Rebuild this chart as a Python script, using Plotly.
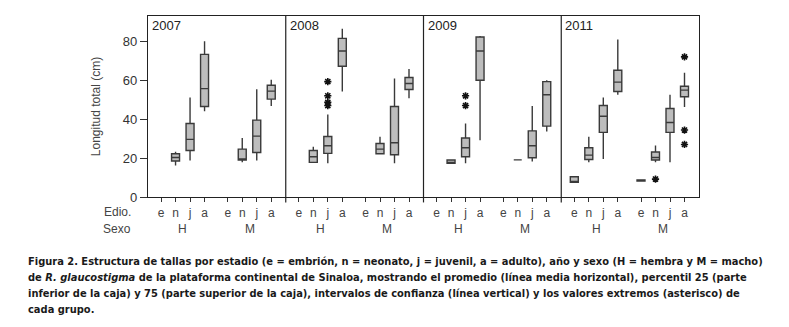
import plotly.graph_objects as go

# ---------------- data ----------------
years = ["2007", "2008", "2009", "2011"]
stages = ["e", "n", "j", "a"]
sexes = ["H", "M"]

# one entry per box: year, sex, stage, lower whisker, q1, median, q3, upper whisker
box_year =   ["2007","2007","2007","2007","2007","2007",
              "2008","2008","2008","2008","2008","2008",
              "2009","2009","2009","2009","2009","2009",
              "2011","2011","2011","2011","2011","2011","2011","2011"]
box_sex =    ["H","H","H","M","M","M",
              "H","H","H","M","M","M",
              "H","H","H","M","M","M",
              "H","H","H","H","M","M","M","M"]
box_stage =  ["n","j","a","n","j","a",
              "n","j","a","n","j","a",
              "n","j","a","n","j","a",
              "e","n","j","a","e","n","j","a"]
box_low =    [16.2, 18.8, 44.1, 17.8, 18.8, 46.8,
              17.5, 17.3, 54.2, 22.0, 17.3, 50.8,
              17.3, 17.3, 29.2, 19.1, 18.3, 33.7,
              7.5, 17.8, 19.5, 52.5, 8.2, 17.8, 17.8, 46.3]
box_q1 =     [18.5, 23.9, 46.5, 19.0, 22.9, 50.3,
              17.8, 22.4, 67.2, 22.2, 21.7, 55.2,
              17.3, 20.7, 60.0, 19.1, 20.2, 36.4,
              7.5, 19.3, 33.2, 54.2, 8.2, 19.0, 33.2, 51.5]
box_median = [20.3, 29.6, 55.7, 19.5, 31.3, 54.4,
              20.7, 26.3, 75.0, 24.6, 27.9, 58.3,
              17.3, 25.3, 75.0, 19.1, 26.3, 52.5,
              7.5, 21.5, 41.5, 59.0, 8.2, 20.3, 38.3, 54.9]
box_q3 =     [22.2, 37.8, 73.3, 24.6, 39.5, 57.4,
              23.9, 31.1, 81.5, 27.5, 46.5, 61.4,
              19.0, 30.3, 82.2, 19.1, 34.0, 59.3,
              10.4, 25.3, 47.0, 65.1, 8.8, 23.1, 45.5, 56.9]
box_high =   [23.2, 51.1, 80.0, 30.3, 55.4, 60.3,
              25.8, 42.4, 86.5, 30.9, 60.9, 65.8,
              19.0, 37.8, 82.7, 19.1, 46.7, 60.0,
              10.4, 30.9, 51.1, 80.9, 8.8, 26.5, 52.6, 63.8]

# extreme values (asterisks)
out_year =  ["2008","2008","2008","2008","2009","2009","2011","2011","2011","2011"]
out_sex =   ["H","H","H","H","H","H","M","M","M","M"]
out_stage = ["j","j","j","j","j","j","n","a","a","a"]
out_value = [59.3, 52.0, 48.6, 47.0, 52.0, 47.0, 9.2, 72.0, 34.4, 27.0]

caption_lines = [
    "Figura 2. Estructura de tallas por estadio (e = embrión, n = neonato, j = juvenil, a = adulto), año y sexo (H = hembra y M = macho)",
    "de <i>R. glaucostigma</i> de la plataforma continental de Sinaloa, mostrando el promedio (línea media horizontal), percentil 25 (parte",
    "inferior de la caja) y 75 (parte superior de la caja), intervalos de confianza (línea vertical) y los valores extremos (asterisco) de",
    "cada grupo.",
]

# ---------------- layout helpers ----------------
PANEL = 9.5
SEX_OFF = {"H": 0.9, "M": 5.5}

def xpos(year, sex, stage):
    return years.index(year) * PANEL + SEX_OFF[sex] + stages.index(stage)

bx = [xpos(y, s, st) for y, s, st in zip(box_year, box_sex, box_stage)]
ox = [xpos(y, s, st) for y, s, st in zip(out_year, out_sex, out_stage)]

fig = go.Figure()
fig.add_trace(go.Box(
    x=bx, q1=box_q1, median=box_median, q3=box_q3,
    lowerfence=box_low, upperfence=box_high,
    width=0.55, whiskerwidth=0, boxpoints=False,
    fillcolor="#bdbdbd", line=dict(color="#3a3a3a", width=1.4),
    showlegend=False, hoverinfo="skip"))
fig.add_trace(go.Scatter(
    x=ox, y=out_value, mode="markers",
    marker=dict(symbol="asterisk-open", size=6, color="#111",
                line=dict(color="#111", width=1.6)),
    showlegend=False, hoverinfo="skip"))

tickvals, ticktext = [], []
for y in years:
    for s in sexes:
        for st in stages:
            tickvals.append(xpos(y, s, st))
            ticktext.append(st)

shapes = []
for k in range(1, len(years)):
    shapes.append(dict(type="line", xref="x", yref="paper", x0=k * PANEL, x1=k * PANEL,
                       y0=-0.03, y1=1, line=dict(color="#222", width=1.2)))

annotations = []
for k, y in enumerate(years):
    annotations.append(dict(text=y, xref="x", yref="paper", x=k * PANEL + 0.15, y=1.0,
                            xanchor="left", yanchor="top", showarrow=False,
                            font=dict(size=13, color="#222", family="Liberation Sans, Arial")))
    for s in sexes:
        annotations.append(dict(text=s, xref="x", yref="paper",
                                x=k * PANEL + SEX_OFF[s] + 1.5, y=-0.175,
                                xanchor="center", yanchor="middle", showarrow=False,
                                font=dict(size=12, color="#444", family="Liberation Sans, Arial")))
annotations.append(dict(text="Edio.", xref="paper", yref="paper", x=-0.028, y=-0.082,
                        xanchor="right", yanchor="middle", showarrow=False,
                        font=dict(size=12, color="#444", family="Liberation Sans, Arial")))
annotations.append(dict(text="Sexo", xref="paper", yref="paper", x=-0.028, y=-0.175,
                        xanchor="right", yanchor="middle", showarrow=False,
                        font=dict(size=12, color="#444", family="Liberation Sans, Arial")))
for i, line in enumerate(caption_lines):
    annotations.append(dict(text="<b>" + line + "</b>", xref="paper", yref="paper",
                            x=(26 - 148) / 551, y=(197 - (261 + 16 * i)) / 181,
                            xanchor="left", yanchor="middle", align="left", showarrow=False,
                            font=dict(size=11, color="#1a1a1a", family="DejaVu Sans Condensed")))

# page body has an 8px margin, so the figure is sized to the remaining viewport
fig.update_layout(
    width=773, height=311,
    margin=dict(l=140, r=82, t=8, b=122),
    paper_bgcolor="white", plot_bgcolor="white",
    font=dict(family="Liberation Sans, Arial", color="#333"),
    xaxis=dict(range=[0, PANEL * len(years)], tickvals=tickvals, ticktext=ticktext,
               ticks="outside", ticklen=4, tickcolor="#333", showgrid=False, zeroline=False,
               showline=True, linecolor="#222", linewidth=1.2, mirror=True,
               tickfont=dict(size=12, color="#444")),
    yaxis=dict(range=[0, 93], tickvals=[0, 20, 40, 60, 80], ticks="outside", ticklen=7,
               tickcolor="#333", showgrid=False, zeroline=False, showline=True,
               linecolor="#222", linewidth=1.2, mirror=True,
               tickfont=dict(size=13, color="#333"),
               title=dict(text="Longitud total (cm)", font=dict(size=12, color="#444"), standoff=19)),
    shapes=shapes, annotations=annotations,
)

fig.write_html("out.html")
